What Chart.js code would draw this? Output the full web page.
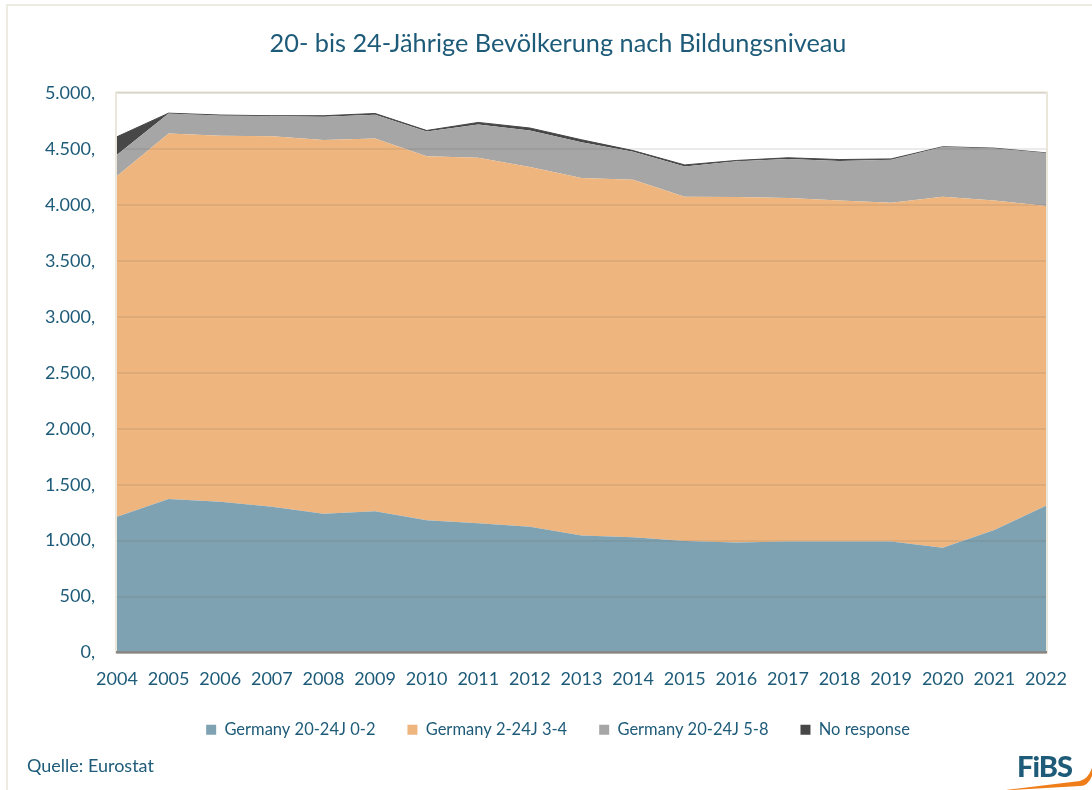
<!DOCTYPE html>
<html><head><meta charset="utf-8">
<script src="https://cdn.jsdelivr.net/npm/chart.js@4"></script>
<style>
html,body{margin:0;padding:0;background:#fff;}
#wrap{position:relative;width:1092px;height:790px;overflow:hidden;font-family:Lato,sans-serif;}
#frame{position:absolute;left:6px;top:4px;width:1200px;height:900px;border-top:2px solid #EEEBE2;border-left:2px solid #EEEBE2;}
#c{position:absolute;left:0;top:0;}
#src{position:absolute;left:27px;top:754px;font-size:18px;color:#1d5b79;}
#logo{position:absolute;left:1017px;top:748px;font-size:29px;font-weight:900;color:#1d5b79;letter-spacing:-1px;}
#swoosh{position:absolute;left:0;top:0;}
</style></head>
<body><div id="wrap">
<div id="frame"></div>
<canvas id="c" width="1092" height="790"></canvas>
<div id="src">Quelle: Eurostat</div>
<div id="logo">FiBS</div>
<svg id="swoosh" width="1092" height="790"><path d="M1006 790 L1080 781 Q1088 779 1092 768 L1092 776 Q1088 786 1080 786 L1012 790 Z" fill="#ee7d1a"/></svg>
</div>
<script>
const years = ['2004','2005','2006','2007','2008','2009','2010','2011','2012','2013','2014','2015','2016','2017','2018','2019','2020','2021','2022'];
const seriesNames = ['Germany 20-24J 0-2','Germany 2-24J 3-4','Germany 20-24J 5-8','No response'];
const level02 = [1213,1373,1349,1304,1241,1263,1182,1155,1125,1047,1030,996,984,993,993,992,936,1095,1313];
const level34 = [3048,3268,3271,3313,3343,3333,3255,3270,3217,3196,3198,3079,3089,3071,3049,3029,3139,2947,2679];
const level58 = [191,179,183,180,207,212,223,297,326,319,250,272,320,350,354,385,448,468,476];
const noResponse = [160,3,3,3,9,12,8,18,22,23,10,13,7,10,12,8,0,0,0];
const yTickValues = [0,500,1000,1500,2000,2500,3000,3500,4000,4500,5000];

const txt = '#1d5b79';
const colors = ['#7FA2B2','#EEB57F','#A6A6A6','#474747'];
const dataSets = [level02, level34, level58, noResponse];

function fmt(v){
  const s = String(Math.round(v));
  return s.replace(/\B(?=(\d{3})+(?!\d))/g, '.') + ',';
}

const frame = {
  id:'plotFrame',
  afterDatasetsDraw(chart){
    const a = chart.chartArea, ctx = chart.ctx;
    ctx.save();
    ctx.strokeStyle = '#EAE6DA';
    ctx.lineWidth = 2;
    ctx.strokeRect(a.left-1, a.top-1, a.right-a.left+2, a.bottom-a.top+1);
    ctx.restore();
  }
};

new Chart(document.getElementById('c'), {
  type:'line',
  data:{
    labels: years,
    datasets: dataSets.map((d,i)=>({
      label: seriesNames[i],
      data: d,
      backgroundColor: colors[i],
      borderColor: colors[i],
      borderWidth: i===3 ? 1 : 0,
      pointRadius: 0,
      fill: i===0 ? 'origin' : '-1',
      tension: 0,
      yAxisID:'y'
    }))
  },
  options:{
    responsive:false,
    animation:false,
    devicePixelRatio:1,
    layout:{padding:{left:24,right:0,top:0,bottom:42}},
    plugins:{
      title:{display:true,text:'20- bis 24-Jährige Bevölkerung nach Bildungsniveau',color:txt,
        font:{family:'Lato',size:25.3,weight:'normal'},padding:{top:29,bottom:34}},
      legend:{position:'bottom',
        labels:{color:txt,font:{family:'Lato',size:16.5},boxWidth:10,boxHeight:10,padding:32,
          generateLabels(chart){
            return chart.data.datasets.map((ds,i)=>({text:ds.label,fillStyle:colors[i],strokeStyle:colors[i],lineWidth:0,datasetIndex:i,fontColor:txt}));
          }}},
      tooltip:{enabled:false}
    },
    scales:{
      x:{
        offset:false,
        grid:{display:false,drawTicks:false},
        border:{display:true,color:'#8a8a8a',width:2.5,z:1},
        ticks:{color:txt,font:{family:'Lato',size:18},padding:16,maxRotation:0,autoSkip:false},
        afterFit(s){s.height=37;}
      },
      y:{
        stacked:true,
        min:0,max:5000,
        afterBuildTicks(s){s.ticks = yTickValues.map(v=>({value:v}));},
        grid:{color:'rgba(100,90,70,0.12)',lineWidth:2,drawTicks:false,z:1},
        border:{display:false},
        ticks:{color:txt,font:{family:'Lato',size:18},padding:22,callback:(v)=>fmt(v)},
        afterFit(s){s.width=93;}
      },
      yRight:{
        type:'linear',position:'right',display:true,
        grid:{display:false},border:{display:false},
        ticks:{display:false},
        afterFit(s){s.width=46;}
      }
    }
  },
  plugins:[frame]
});
</script>
</body></html>
